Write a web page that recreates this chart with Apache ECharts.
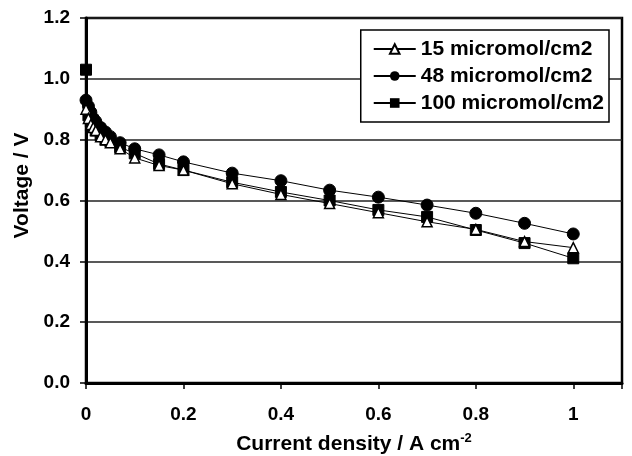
<!DOCTYPE html>
<html>
<head>
<meta charset="utf-8">
<script src="https://cdn.jsdelivr.net/npm/echarts@6/dist/echarts.min.js"></script>
<style>
  html, body { margin: 0; padding: 0; background: #fff; }
  #chart { width: 632px; height: 456px; }
</style>
</head>
<body>
<div id="chart"></div>
<script>
'use strict';
// current density points (A cm-2)
var currentDensity = [0, 0.005, 0.01, 0.015, 0.02, 0.03, 0.04, 0.05, 0.07, 0.1, 0.15, 0.2, 0.3, 0.4, 0.5, 0.6, 0.7, 0.8, 0.9, 1.0];
// voltage per loading
var v15  = [0.90, 0.87, 0.85, 0.84, 0.83, 0.81, 0.80, 0.79, 0.77, 0.74, 0.715, 0.70, 0.655, 0.62, 0.59, 0.56, 0.53, 0.505, 0.465, 0.445];
var v48  = [0.93, 0.91, 0.89, 0.87, 0.86, 0.84, 0.825, 0.81, 0.79, 0.77, 0.75, 0.727, 0.69, 0.665, 0.634, 0.611, 0.585, 0.558, 0.525, 0.49];
var v100 = [1.03, 0.88, 0.86, 0.845, 0.83, 0.815, 0.80, 0.795, 0.775, 0.755, 0.72, 0.70, 0.66, 0.628, 0.60, 0.569, 0.546, 0.503, 0.46, 0.41];
var seriesNames = ['15 micromol/cm2', '48 micromol/cm2', '100 micromol/cm2'];

function pairs(ys) {
    return currentDensity.map(function (x, i) { return [x, ys[i]]; });
}

var myChart = echarts.init(document.getElementById('chart'));
var font = 'Arial, "Liberation Sans", sans-serif';

var option = {
    animation: false,
    grid: {
        left: 86, right: 10, top: 18, bottom: 73,
        outerBoundsMode: 'none',
        show: true, borderColor: '#000', borderWidth: 2.5
    },
    legend: {
        right: 23, top: 30,
        orient: 'vertical',
        backgroundColor: '#fff',
        borderColor: '#000', borderWidth: 1.5, borderRadius: 0,
        padding: [8, 5, 8, 12],
        itemGap: 5, itemWidth: 42, itemHeight: 12,
        textStyle: { fontFamily: font, fontWeight: 'bold', fontSize: 21, lineHeight: 22, color: '#000' },
        data: seriesNames
    },
    xAxis: {
        type: 'value', min: 0, max: 1.1, interval: 0.2,
        name: '{a|Current density / A cm}{s|-2}',
        nameLocation: 'middle', nameGap: 49,
        nameTextStyle: {
            rich: {
                a: { fontFamily: font, fontWeight: 'bold', fontSize: 21, color: '#000' },
                s: { fontFamily: font, fontWeight: 'bold', fontSize: 13, color: '#000', verticalAlign: 'top', padding: [0, 0, 12, 0] }
            }
        },
        axisLine: { lineStyle: { color: '#000', width: 3 } },
        axisTick: { inside: false, length: 6, lineStyle: { color: '#000', width: 1.5 } },
        axisLabel: {
            margin: 22, fontFamily: font, fontWeight: 'bold', fontSize: 19, color: '#000',
            formatter: function (v) { return v > 1.05 ? '' : String(+v.toFixed(1)); }
        },
        splitLine: { show: false }
    },
    yAxis: {
        type: 'value', min: 0, max: 1.2, interval: 0.2,
        name: 'Voltage / V',
        nameLocation: 'middle', nameGap: 50,
        nameTextStyle: { fontFamily: font, fontWeight: 'bold', fontSize: 21, color: '#000', padding: [0, 0, 0, 30] },
        axisLine: { lineStyle: { color: '#000', width: 3 } },
        axisTick: { inside: false, length: 6, lineStyle: { color: '#000', width: 1.5 } },
        axisLabel: {
            margin: 16, fontFamily: font, fontWeight: 'bold', fontSize: 19, color: '#000',
            formatter: function (v) { return v.toFixed(1); }
        },
        splitLine: { show: true, lineStyle: { color: '#222', width: 1.5 } }
    },
    series: [
        {
            name: seriesNames[0], type: 'line', data: pairs(v15),
            symbol: 'triangle', symbolSize: 10,
            lineStyle: { color: '#000', width: 1 },
            itemStyle: { color: '#fff', borderColor: '#000', borderWidth: 1.5 },
            z: 4
        },
        {
            name: seriesNames[1], type: 'line', data: pairs(v48),
            symbol: 'circle', symbolSize: 12,
            lineStyle: { color: '#000', width: 1 },
            itemStyle: { color: '#000', borderColor: '#000' },
            z: 3
        },
        {
            name: seriesNames[2], type: 'line', data: pairs(v100),
            symbol: 'rect', symbolSize: 11,
            lineStyle: { color: '#000', width: 1 },
            itemStyle: { color: '#000', borderColor: '#000' },
            z: 3
        }
    ]
};
myChart.setOption(option);
</script>
</body>
</html>
